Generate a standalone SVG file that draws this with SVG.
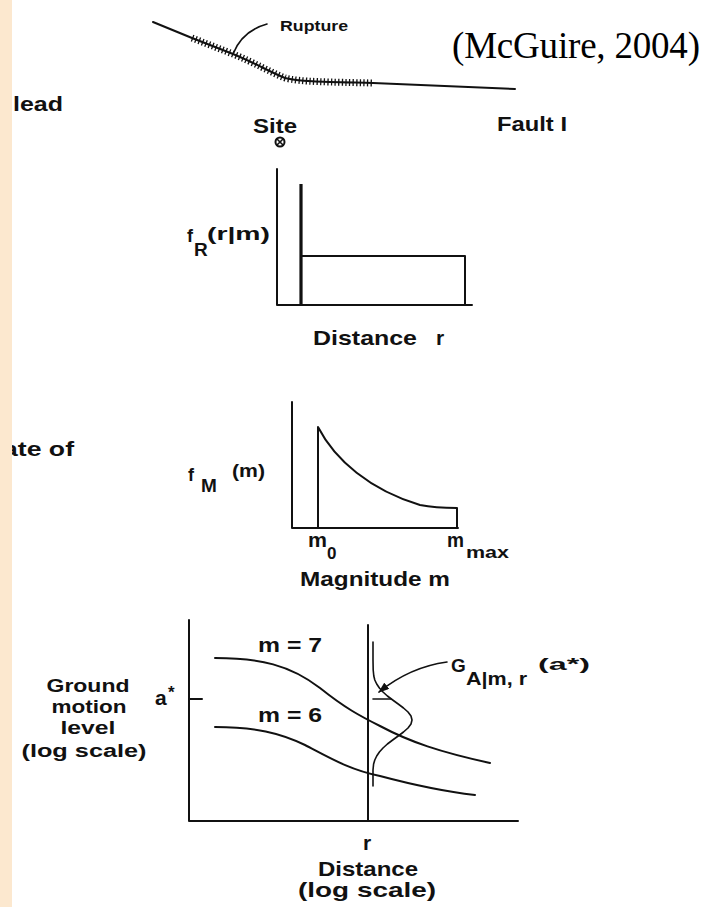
<svg xmlns="http://www.w3.org/2000/svg" width="717" height="907" viewBox="0 0 717 907">
<defs>
<style>
.ln{fill:none;stroke:#111;stroke-width:2;stroke-linecap:round;stroke-linejoin:round}
.thin{fill:none;stroke:#111;stroke-width:1.6;stroke-linecap:round;stroke-linejoin:round}
.t{font-family:"Liberation Sans",Arial,sans-serif;font-weight:bold;fill:#111;font-size:21px}
.s{font-size:17px}
.gm{font-size:18px}
.ser{font-family:"Liberation Serif","Times New Roman",serif;fill:#000;font-size:37px}
</style>
<marker id="ah" markerWidth="11" markerHeight="8" refX="10" refY="4" orient="auto" markerUnits="userSpaceOnUse">
<path d="M0,0 L11,4 L0,8 Z" fill="#111"/>
</marker>
</defs>
<rect x="0" y="0" width="717" height="907" fill="#fff"/>

<g id="fault">
<path class="ln" d="M153,22 L192,38 L233,54 C255,63 270,72 285,78 C300,82 330,82 373,83 L515,89"/>
<path d="M192,38 L233,54 C255,63 270,72 285,78 C300,82 330,82 373,83" fill="none" stroke="#111" stroke-width="7" stroke-dasharray="1.3 2.3"/>
<text class="t" x="280" y="31" style="font-size:15px" textLength="68" lengthAdjust="spacingAndGlyphs">Rupture</text>
<text class="t" x="253" y="133" textLength="44" lengthAdjust="spacingAndGlyphs">Site</text>
<g id="site-symbol">
<circle cx="280" cy="142" r="4.5" fill="none" stroke="#111" stroke-width="2"/>
<path d="M277,139 L283,145 M283,139 L277,145" stroke="#111" stroke-width="1.6"/>
</g>
<text class="t" x="497" y="131" textLength="70" lengthAdjust="spacingAndGlyphs">Fault I</text>
</g>

<text class="ser" x="452" y="58" textLength="248">(McGuire, 2004)</text>

<g id="left-text">
<text class="t" x="13" y="111" textLength="50" lengthAdjust="spacingAndGlyphs">lead</text>
<text class="t" x="3" y="456" textLength="71" lengthAdjust="spacingAndGlyphs">ate of</text>
</g>

<g id="panel-distance">
<path class="ln" d="M277,169 L277,305 L472,305"/>
<path d="M301,184 L301,305" stroke="#111" stroke-width="3.2" fill="none"/>
<path class="ln" d="M301,256 L465,256 L465,305"/>
<text class="t" x="187" y="242" style="font-size:18px">f</text>
<text class="t" x="194" y="256" style="font-size:19px">R</text>
<text class="t" x="207" y="240" style="font-size:18px" textLength="63" lengthAdjust="spacingAndGlyphs">(r|m)</text>
<text class="t" x="313" y="345" textLength="104" lengthAdjust="spacingAndGlyphs">Distance</text>
<text class="t" x="436" y="345">r</text>
</g>

<g id="panel-magnitude">
<path class="ln" d="M292,402 L292,528 L458,528"/>
<path class="ln" d="M318,528 L318,427 C335,460 370,490 420,505 C435,508 445,508 457,508 L457,528"/>
<text class="t" x="188" y="481" style="font-size:18px">f</text>
<text class="t" x="201" y="492" style="font-size:19px">M</text>
<text class="t" x="232" y="477" style="font-size:18px" textLength="33" lengthAdjust="spacingAndGlyphs">(m)</text>
<text class="t" x="308" y="547" textLength="19" lengthAdjust="spacingAndGlyphs">m</text>
<text class="t s" x="327" y="559">0</text>
<text class="t" x="447" y="547" textLength="17" lengthAdjust="spacingAndGlyphs">m</text>
<text class="t s" x="466" y="558" textLength="43" lengthAdjust="spacingAndGlyphs">max</text>
<text class="t" x="300" y="586" textLength="150" lengthAdjust="spacingAndGlyphs">Magnitude m</text>
</g>

<g id="panel-ground-motion">
<path class="ln" d="M189,620 L189,821 L518,821"/>
<path class="ln" d="M368,625 L368,821"/>
<path class="ln" d="M189,699 L202,699"/>
<path class="ln" d="M215,658 C260,658 290,665 320,688 C345,708 360,716 380,726 C410,742 440,752 490,763"/>
<path class="ln" d="M215,727 C255,727 280,733 305,745 C330,758 350,770 380,776 C410,784 440,791 475,795"/>
<polyline class="thin" points="373,642 373,660 373.2,670 373.8,676 374.8,680 376.7,684 379.4,688 383,692 387.4,696 392.7,700 398.2,704 403.5,708 408,712 411,716 412,720 411,724 408,728 403.5,732 398.2,736 392.7,740 387.4,744 383,748 379.4,752 376.7,756 374.8,760 373.6,764 373,770 373,780 373,786"/>
<path class="thin" d="M373,699 L391,699"/>
<text class="t gm" x="88" y="692" text-anchor="middle" textLength="83" lengthAdjust="spacingAndGlyphs">Ground</text>
<text class="t gm" x="89" y="713" text-anchor="middle" textLength="75" lengthAdjust="spacingAndGlyphs">motion</text>
<text class="t gm" x="88" y="734" text-anchor="middle" textLength="55" lengthAdjust="spacingAndGlyphs">level</text>
<text class="t gm" x="84" y="757" text-anchor="middle" textLength="125" lengthAdjust="spacingAndGlyphs">(log scale)</text>
<text class="t" x="155" y="705">a</text>
<text class="t s" x="168" y="698">*</text>
<text class="t" x="258" y="652" textLength="64" lengthAdjust="spacingAndGlyphs">m = 7</text>
<text class="t" x="258" y="722" textLength="64" lengthAdjust="spacingAndGlyphs">m = 6</text>
<text class="t" x="363" y="850">r</text>
<text class="t" x="318" y="876" textLength="100" lengthAdjust="spacingAndGlyphs">Distance</text>
<text class="t" x="298" y="897" textLength="138" lengthAdjust="spacingAndGlyphs">(log scale)</text>
<text class="t" x="451" y="672" style="font-size:19px">G</text>
<text class="t" x="466" y="685" style="font-size:18px" textLength="61" lengthAdjust="spacingAndGlyphs">A|m, r</text>
<text class="t s" x="538" y="670" textLength="52" lengthAdjust="spacingAndGlyphs">(a*)</text>
</g>

<g id="connectors">
<path class="thin" d="M233,54 Q242,31 267,24"/>
<path class="thin" d="M447,662 Q410,667 379,692" marker-end="url(#ah)"/>
</g>

<rect x="0" y="0" width="12" height="907" fill="#fce8cf"/>
</svg>
